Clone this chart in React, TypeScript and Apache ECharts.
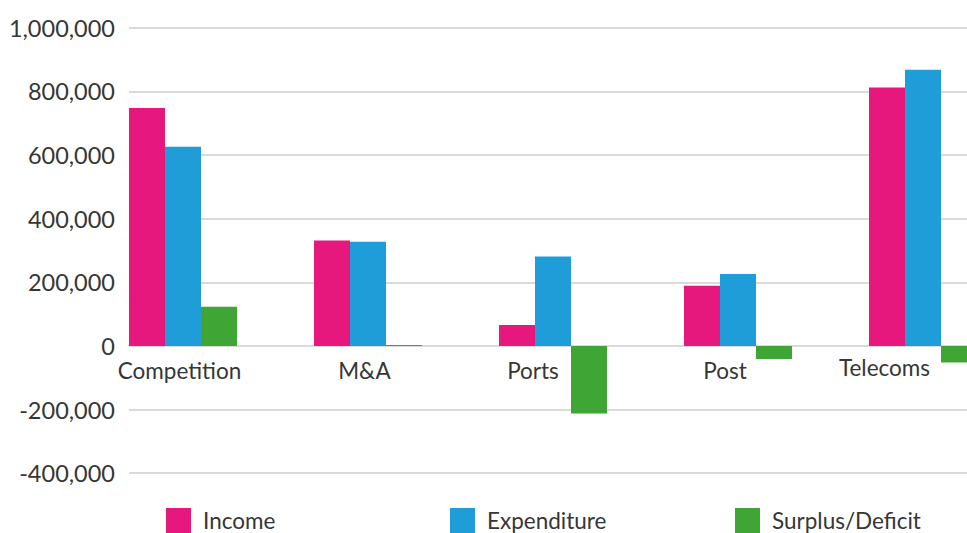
import React, { useEffect, useRef } from "react";
import * as echarts from "echarts";

const categories = ["Competition", "M&A", "Ports", "Post", "Telecoms"];
const income = [748000, 331000, 66000, 189000, 812000];
const expenditure = [626000, 327000, 281000, 226000, 868000];
const surplus = [123000, 3000, -212000, -41000, -52000];
const seriesNames = ["Income", "Expenditure", "Surplus/Deficit"];
const yTicks = { min: -400000, max: 1000000, interval: 200000 };

const COLORS = ["#E6177D", "#1E9DD8", "#3FA535"];
const FONT = "Lato";
const FS = 22.5;
const TEXT = "#363636";
// per-label horizontal shift (right padding) and top padding, to mimic reference label placement
const labelPadRight = [84, 84, 117, 103, 154];
const labelPadTop = [3, 3, 3, 3, 0];
const legendLefts = [166, 450, 735];

const GRID_TOP = 27.7;
const GRID_BOTTOM = 59.8;
const CHART_H = 533;

export default function App() {
  const ref = useRef<HTMLDivElement>(null);
  useEffect(() => {
    if (!ref.current) return;
    const chart = echarts.init(ref.current, null, { renderer: "svg" });
    const rich: Record<string, any> = {};
    categories.forEach((_, i) => {
      rich["c" + i] = {
        fontFamily: FONT,
        fontSize: FS,
        color: TEXT,
        padding: [labelPadTop[i], labelPadRight[i], 0, 0],
      };
    });
    // move the category axis up to the value-axis zero line
    const plotH = CHART_H - GRID_TOP - GRID_BOTTOM;
    const zeroFromBottom = (plotH * (0 - yTicks.min)) / (yTicks.max - yTicks.min);
    const barBase = {
      type: "bar" as const,
      barWidth: 36,
      barGap: "0%",
    };
    chart.setOption({
      animation: false,
      textStyle: { fontFamily: FONT },
      grid: {
        left: 129,
        width: 925,
        top: GRID_TOP,
        bottom: GRID_BOTTOM,
        containLabel: false,
        outerBoundsMode: "none",
      },
      legend: seriesNames.map((n, i) => ({
        data: [n],
        left: legendLefts[i],
        top: 508,
        padding: 0,
        itemWidth: 25,
        itemHeight: 25,
        itemGap: 0,
        icon: "rect",
        selectedMode: false,
        textStyle: { fontFamily: FONT, fontSize: FS, color: TEXT, padding: [0, 0, 0, 7] },
      })),
      xAxis: {
        type: "category",
        data: categories,
        position: "bottom",
        offset: -zeroFromBottom,
        axisLine: { show: true, onZero: false, lineStyle: { color: "#dadada", width: 2 } },
        axisTick: { show: false },
        axisLabel: {
          interval: 0,
          margin: 10,
          hideOverlap: false,
          formatter: (v: string, i: number) => `{c${i}|${v}}`,
          rich,
        },
      },
      yAxis: {
        type: "value",
        min: yTicks.min,
        max: yTicks.max,
        interval: yTicks.interval,
        axisLine: { show: false },
        axisTick: { show: false },
        splitLine: { lineStyle: { color: "#dadada", width: 2 } },
        axisLabel: {
          fontFamily: FONT,
          fontSize: 23.5,
          color: TEXT,
          margin: 14,
          formatter: (v: number) => v.toLocaleString("en-US"),
        },
      },
      series: [
        { ...barBase, name: seriesNames[0], data: income, itemStyle: { color: COLORS[0] } },
        { ...barBase, name: seriesNames[1], data: expenditure, itemStyle: { color: COLORS[1] } },
        { ...barBase, name: seriesNames[2], data: surplus, itemStyle: { color: COLORS[2] } },
        {
          ...barBase,
          name: "spacer",
          barWidth: 77,
          data: categories.map(() => null),
          itemStyle: { color: "transparent" },
          silent: true,
        },
      ],
    });
    return () => chart.dispose();
  }, []);
  return (
    <div
      ref={ref}
      style={{ position: "fixed", left: 0, top: 0, width: 967, height: 533, background: "#fff" }}
    />
  );
}
